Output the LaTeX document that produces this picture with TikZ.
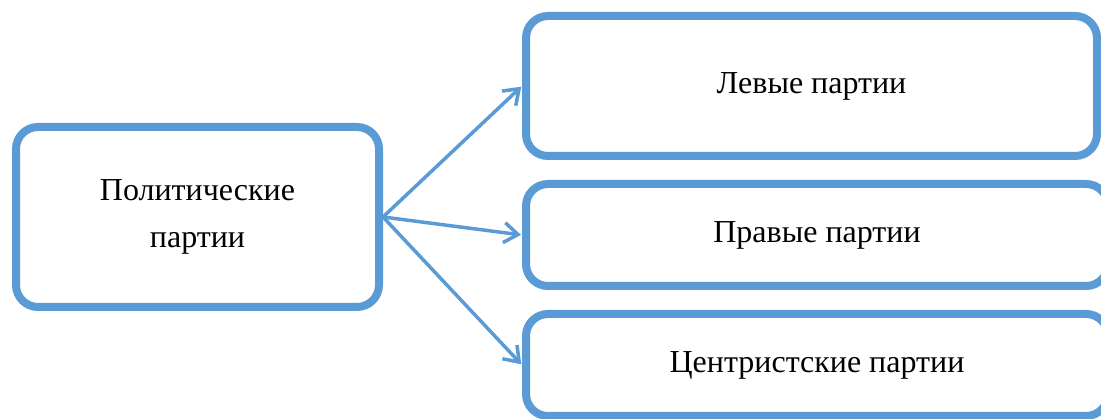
\documentclass[tikz,border=0pt]{standalone}
\usepackage{fontspec}
\setmainfont{Liberation Serif}
\usetikzlibrary{arrows.meta}
\definecolor{boxblue}{HTML}{5B9BD5}
\begin{document}
\begin{tikzpicture}[x=1pt,y=1pt,
  pbox/.style={draw=boxblue, line width=8pt, rounded corners=22pt, fill=white,
    align=center, font=\fontsize{32}{47}\selectfont, inner sep=0pt},
  conn/.style={draw=boxblue, line width=3.5pt,
    -{Straight Barb[length=14pt,width=20pt]}, shorten >=1pt}]
\useasboundingbox (0,-419) rectangle (1101,0);
\node[pbox, minimum width=363pt, minimum height=180pt] (pp) at (197.5,-217) {Политические\\партии};
\node[pbox, minimum width=571pt, minimum height=140pt] (left) at (811.5,-86) {Левые партии};
\node[pbox, minimum width=582pt, minimum height=102pt] (right) at (817,-235) {Правые партии};
\node[pbox, minimum width=582pt, minimum height=102pt] (center) at (817,-365) {Центристские партии};
\draw[conn] (pp.east) -- (left.west);
\draw[conn] (pp.east) -- (right.west);
\draw[conn] (pp.east) -- (center.west);
\end{tikzpicture}
\end{document}
